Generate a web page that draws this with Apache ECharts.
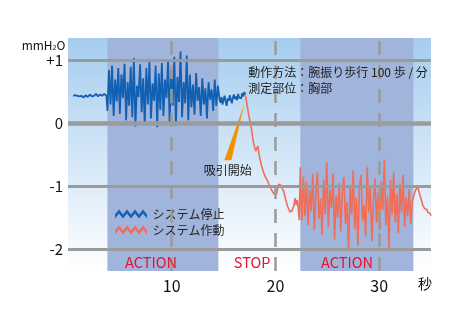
<!DOCTYPE html>
<html>
<head>
<meta charset="utf-8">
<script src="https://cdn.jsdelivr.net/npm/echarts@6/dist/echarts.min.js"></script>
<style>
  html, body { margin: 0; padding: 0; background: #ffffff; }
  #chart { width: 470px; height: 330px; }
</style>
</head>
<body>
<div id="chart"></div>
<script>
// Pressure trace (mmH2O), stored as segments: start time (s), sample step (s), values

// System stopped
const stoppedRestA = { start: 0.5, step: 0.1, values: [
  0.44, 0.46, 0.45, 0.43, 0.44, 0.42, 0.43, 0.45, 0.44, 0.42,
  0.41, 0.43, 0.45, 0.44, 0.42, 0.43, 0.46, 0.45, 0.43, 0.42,
  0.44, 0.46, 0.47, 0.45, 0.43, 0.44, 0.46, 0.45, 0.44, 0.46,
  0.47, 0.45, 0.44
]};
const stoppedAction = { start: 3.8, step: 0.15, values: [
  0.20, 0.85, 0.30, 0.92, 0.12, 0.70, 0.35, 0.88, 0.15, 0.78,
  0.40, 0.95, 0.05, 0.66, 0.28, 0.90, 0.10, 1.04, -0.05, 0.60,
  0.42, 0.94, 0.18, 0.72, -0.02, 0.88, 0.30, 0.98, 0.08, 0.64,
  0.36, 0.92, -0.06, 0.80, 0.22, 0.96, 0.12, 0.70, 0.40, 1.02,
  0.00, 0.86, 0.28, 1.06, -0.04, 0.74, 0.34, 1.15, 0.10, 0.66,
  0.32, 1.08, 0.05, 0.78, 0.26, 0.62, 0.14, 0.80, 0.36, 0.58,
  0.12, 0.72, 0.30, 0.56, 0.08, 0.66, 0.38, 0.54, 0.20, 0.70,
  0.28, 0.60
]};
const stoppedRestB = { start: 14.6, step: 0.1, values: [
  0.40, 0.33, 0.42, 0.30, 0.38, 0.44, 0.35, 0.28, 0.40, 0.36,
  0.45, 0.38, 0.32, 0.41, 0.46, 0.39, 0.43, 0.37, 0.47, 0.41,
  0.44, 0.40, 0.48, 0.43, 0.50, 0.46
]};

// System running (suction starts at 17.1 s)
const runningRestA = { start: 17.1, step: 0.1, values: [
  0.46, 0.36, 0.26, 0.16, 0.07, -0.02, -0.10, -0.22, -0.32, -0.38,
  -0.44, -0.40, -0.36, -0.47, -0.56, -0.63, -0.70, -0.75, -0.80, -0.84,
  -0.87, -0.90, -0.94, -0.98, -1.02, -1.05, -1.08, -1.10, -1.13, -1.14,
  -1.12, -1.05, -0.97, -0.95, -0.98, -1.02, -1.01, -1.08, -1.15, -1.22,
  -1.28, -1.33, -1.37, -1.41, -1.40, -1.39, -1.36, -1.30, -1.19, -1.30,
  -1.22, -1.35, -1.54
]};
const runningAction = { start: 22.4, step: 0.15, values: [
  -0.70, -1.55, -0.85, -1.48, -0.92, -1.62, -1.05, -1.40, -0.80, -1.70,
  -1.10, -0.78, -1.52, -1.20, -1.78, -0.90, -1.45, -0.62, -1.65, -1.05,
  -1.35, -0.80, -1.85, -1.15, -1.50, -0.95, -1.72, -1.08, -0.85, -1.60,
  -1.25, -2.02, -0.98, -1.45, -0.75, -1.68, -1.18, -1.95, -1.02, -0.82,
  -1.55, -1.30, -1.80, -0.70, -1.42, -1.00, -1.88, -1.25, -0.88, -1.58,
  -1.10, -1.70, -0.92, -1.38, -0.58, -1.62, -1.15, -1.98, -0.90, -1.45,
  -0.78, -1.58, -1.12, -1.75, -0.96, -1.42, -0.82, -1.65, -1.18, -1.48,
  -1.05, -1.60, -1.25
]};
const runningRestB = { start: 33.3, step: 0.1, values: [
  -1.22, -1.12, -1.06, -1.03, -1.02, -1.06, -1.12, -1.18, -1.24, -1.30,
  -1.33, -1.36, -1.38, -1.37, -1.42, -1.44, -1.43, -1.47
]};

// Phases (seconds)
const actionPhases = [[3.8, 14.5], [22.4, 33.3]];
const phaseLabels = ['ACTION', 'STOP', 'ACTION'];
const phaseLabelTimes = [8.0, 17.75, 26.9];

// Axis ticks
const xTicks = [10, 20, 30];
const yTicks = [-2, -1, 0, 1];
const yTickLabels = ['-2', '-1', '0', '+1'];
const xUnit = '秒';

const seriesNames = ['システム停止', 'システム作動'];
const methodNote = '動作方法：腕振り歩行 100 歩 / 分\n測定部位：胸部';
const suctionNote = '吸引開始';

function toPairs(segments) {
  const out = [];
  segments.forEach(seg => {
    seg.values.forEach((v, i) => {
      out.push([Math.round((seg.start + i * seg.step) * 1000) / 1000, v]);
    });
  });
  return out;
}

const FONT = '"Noto Sans CJK JP", "Noto Sans", sans-serif';
const GRID_GRAY = '#9b9b9b';
const BLUE = '#1160b2';
const RED = '#f06d57';
const zigzag = 'path://M0,4.5 L4,-0.5 L8,4.5 L12,-0.5 L16,4.5 L20,-0.5 L24,4.5 L28,-0.5 L32,4.5 L32,8.5 L28,3.5 L24,8.5 L20,3.5 L16,8.5 L12,3.5 L8,8.5 L4,3.5 L0,8.5 Z';

const chart = echarts.init(document.getElementById('chart'), null, { renderer: 'canvas' });

const option = {
  animation: false,
  textStyle: { fontFamily: FONT },
  grid: {
    left: 68, right: 39, top: 38, bottom: 59,
    show: true, borderWidth: 0,
    backgroundColor: {
      type: 'linear', x: 0, y: 0, x2: 0, y2: 1,
      colorStops: [{ offset: 0, color: '#a6cdef' }, { offset: 1, color: '#ffffff' }]
    }
  },
  legend: {
    orient: 'vertical',
    left: 110, top: 203,
    itemWidth: 33, itemHeight: 9, itemGap: 4,
    itemStyle: { borderWidth: 0 },
    textStyle: { fontFamily: FONT, fontSize: 12, color: '#222' },
    data: seriesNames.map(n => ({ name: n, icon: zigzag }))
  },
  graphic: [{
    type: 'text', left: 418, top: 277, silent: true,
    style: { text: xUnit, fill: '#111', font: '14px "Noto Sans CJK JP"' }
  }],
  xAxis: {
    type: 'value', min: 0, max: 35,
    axisLine: { show: false, onZero: false }, axisTick: { show: false }, splitLine: { show: false },
    axisLabel: {
      margin: 7, fontSize: 16, color: '#111', fontFamily: FONT,
      formatter: v => xTicks.includes(v) ? String(v) : ''
    }
  },
  yAxis: {
    type: 'value', min: -2.35, max: 1.36, splitNumber: 4,
    axisLine: { show: false }, axisTick: { show: false }, splitLine: { show: false },
    axisLabel: {
      margin: 5, fontSize: 15, color: '#111', fontFamily: FONT,
      formatter: v => { const k = yTicks.indexOf(v); return k >= 0 ? yTickLabels[k] : ''; }
    },
    name: 'mmH{s|2}O', nameLocation: 'end', nameGap: -13,
    nameTextStyle: {
      fontSize: 12, color: '#111', fontFamily: FONT, padding: [0, 49, 0, 0],
      rich: { s: { fontSize: 7, verticalAlign: 'bottom', padding: [5, 0, 0, 0] } }
    }
  },
  series: [
    {
      name: 'frame', type: 'line', data: [], z: 1, silent: true,
      markArea: {
        silent: true,
        itemStyle: { color: '#a1b4dc', opacity: 1 },
        label: { show: false },
        data: actionPhases.map(p => [{ xAxis: p[0] }, { xAxis: p[1] }])
      },
      markLine: {
        silent: true, symbol: 'none', label: { show: false },
        data: [
          ...yTicks.map(v => ({
            yAxis: v,
            lineStyle: { color: GRID_GRAY, width: v === 0 ? 4.5 : 3, type: 'solid' }
          })),
          ...xTicks.map(v => ({
            xAxis: v,
            lineStyle: { color: GRID_GRAY, width: 2.5, type: [14, 10] }
          }))
        ]
      }
    },
    {
      name: seriesNames[0], type: 'line', z: 3,
      data: toPairs([stoppedRestA, stoppedAction, stoppedRestB]),
      showSymbol: false, symbol: 'none',
      itemStyle: { color: BLUE },
      lineStyle: { color: BLUE, width: 1.8 }
    },
    {
      name: seriesNames[1], type: 'line', z: 3,
      data: toPairs([runningRestA, runningAction, runningRestB]),
      showSymbol: false, symbol: 'none',
      itemStyle: { color: RED },
      lineStyle: { color: RED, width: 1.6 }
    },
    {
      // orange pointer toward the start of suction
      name: 'pointer', type: 'custom', z: 4, silent: true,
      data: [[17.0, 0.31]],
      renderItem: (params, api) => {
        const tip = api.coord([api.value(0), api.value(1)]);
        const b1 = api.coord([15.07, -0.585]);
        const b2 = api.coord([15.75, -0.585]);
        return { type: 'polygon', shape: { points: [tip, b1, b2] }, style: { fill: '#f39200' } };
      }
    },
    {
      name: 'notes', type: 'line', data: [], z: 5, silent: true,
      markPoint: {
        silent: true, symbol: 'rect', symbolSize: 0,
        data: [
          ...phaseLabels.map((t, i) => ({
            coord: [phaseLabelTimes[i], -2.207],
            label: { show: true, position: 'inside', formatter: t, color: '#e5142c', fontSize: 14.5, fontFamily: FONT }
          })),
          {
            coord: [17.39, 0.686],
            label: { show: true, position: 'inside', align: 'left', formatter: methodNote,
                     color: '#1a1a1a', fontSize: 12, lineHeight: 16, fontFamily: FONT }
          },
          {
            coord: [15.41, -0.745],
            label: { show: true, position: 'inside', formatter: suctionNote,
                     color: '#1a1a1a', fontSize: 12, fontFamily: FONT }
          }
        ]
      }
    }
  ]
};

chart.setOption(option);
</script>
</body>
</html>
